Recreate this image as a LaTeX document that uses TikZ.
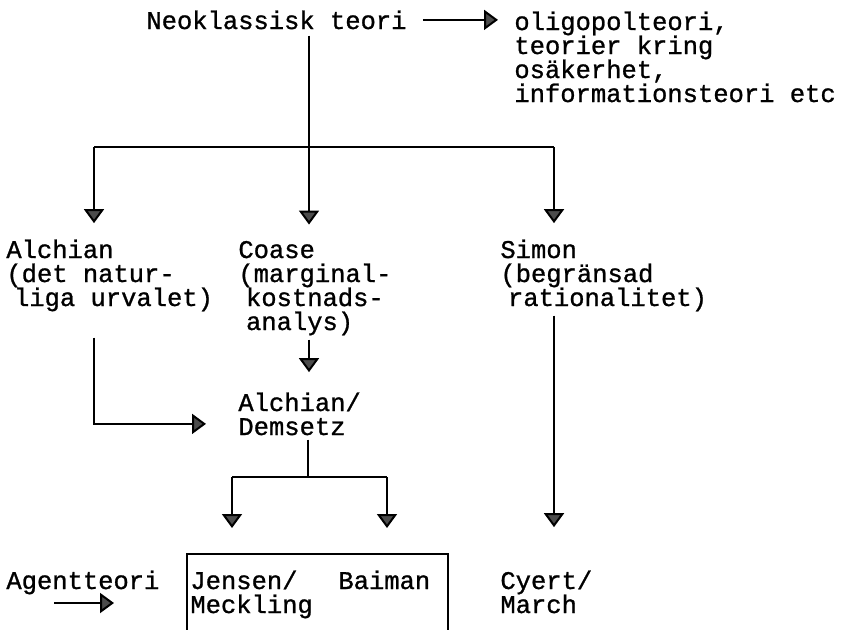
\documentclass[tikz,border=0pt]{standalone}
\usepackage{fontspec}
\setmainfont{Liberation Mono}[UprightFeatures={FakeBold=1}]
\usetikzlibrary{arrows.meta}
\tikzset{
  txt/.style={anchor=base west, inner sep=0pt, align=left,
    font=\fontsize{12.75}{12}\selectfont},
  link/.style={line width=1pt},
  conn/.style={link, -{Triangle[width=10pt,length=7pt,fill=black!70]}},
  panel/.style={draw, line width=1pt, anchor=north west, inner sep=0pt,
    minimum width=130.5pt, minimum height=75pt},
}
\newcommand{\ind}{\hspace*{.3em}}

\begin{document}
\begin{tikzpicture}[x=0.5pt,y=-0.5pt]
        \useasboundingbox (0,0) rectangle (841,629);
        % texter (base = sista raden)
        \node[txt] (neo) at (146,29) {Neoklassisk teori};
        \node[txt] (oligo) at (514,102) {oligopolteori,\\teorier kring\\osäkerhet,\\informationsteori etc};
        \node[txt] (alch) at (6,306) {Alchian\\(det natur-\\\ind liga urvalet)};
        \node[txt] (coase) at (238,330) {Coase\\(marginal-\\\ind kostnads-\\\ind analys)};
        \node[txt] (simon) at (500,306) {Simon\\(begränsad\\\ind rationalitet)};
        \node[txt] (alde) at (238,435) {Alchian/\\Demsetz};
        \node[txt] (agent) at (6,589) {Agentteori};
        \node[panel] (box) at (186,553) {};
        \node[txt] (jens) at (190,613) {Jensen/\\Meckling};
        \node[txt] (baim) at (338,589) {Baiman};
        \node[txt] (cyert) at (500,613) {Cyert/\\March};
        % grenpunkter
        \coordinate (dA) at (94,147);
        \coordinate (dC) at (309,147);
        \coordinate (dS) at (554,147);
        \coordinate (dD) at (308,477);
        \coordinate (dJ) at (232,477);
        \coordinate (dB) at (387,477);
        % pilar
        \draw[conn] ([xshift=8pt]neo.east) -- ([xshift=-8pt]neo.east -| oligo.west);
        \draw[link, shorten <=3pt] (neo.south -| dC) -- (dC);
        \draw[link] (dA) -- (dS);
        \draw[conn, shorten >=8pt] (dA) -- (dA |- alch.north);
        \draw[conn, shorten >=8pt] (dC) -- (dC |- coase.north);
        \draw[conn, shorten >=8pt] (dS) -- (dS |- simon.north);
        \draw[conn, shorten <=2pt, shorten >=10pt] (coase.south -| dC) -- (dC |- alde.north);
        \draw[conn, shorten <=13pt] (alch.south -| dA) |- ([xshift=-16pt,yshift=-5pt]alde.west);
        \draw[link, shorten <=2pt] (alde.south -| dD) -- (dD);
        \draw[link] (dJ) -- (dB);
        \draw[conn, shorten >=12.5pt] (dJ) -- (dJ |- box.north);
        \draw[conn, shorten >=12.5pt] (dB) -- (dB |- box.north);
        \draw[conn, shorten <=2pt, shorten >=21.5pt] (simon.south -| dS) -- (dS |- cyert.north);
        \draw[conn] ([shift={(24pt,-7pt)}]agent.base west) -- ([shift={(54pt,-7pt)}]agent.base west);
    \end{tikzpicture}
\end{document}
